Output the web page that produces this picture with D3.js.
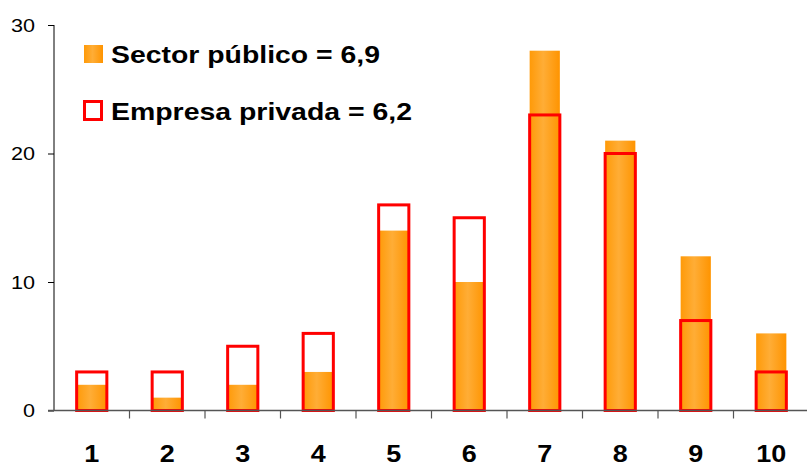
<!DOCTYPE html>
<html><head><meta charset="utf-8">
<script src="https://cdn.jsdelivr.net/npm/d3@7"></script>
<style>body{margin:0;background:#fff}svg{display:block}</style>
</head><body>
<svg id="c" width="807" height="465"></svg>
<script>
const categories = ["1","2","3","4","5","6","7","8","9","10"];
const sectorPublico = [2,1,2,3,14,10,28,21,12,6];
const empresaPrivada = [3,3,5,6,16,15,23,20,7,3];
const yTicks = [0,10,20,30];
const legendLabels = ["Sector público = 6,9","Empresa privada = 6,2"];

const svg = d3.select("#c");
const font = "'Liberation Sans', Arial, sans-serif";
const x = d3.scaleBand().domain(categories).range([54, 809]).paddingInner(0.6).paddingOuter(0.3);
const y = d3.scaleLinear().domain([0,30]).range([410.5, 25]);

const defs = svg.append("defs");
const g = defs.append("linearGradient").attr("id","og").attr("x1","0").attr("x2","1").attr("y1","0").attr("y2","0");
g.append("stop").attr("offset","0").attr("stop-color","#FF9A08");
g.append("stop").attr("offset","0.45").attr("stop-color","#FFAD36");
g.append("stop").attr("offset","1").attr("stop-color","#FF9400");

// orange bars
svg.append("g").selectAll("rect").data(sectorPublico).join("rect")
  .attr("x",(d,i)=>x(categories[i]))
  .attr("width",x.bandwidth())
  .attr("y",d=>y(d))
  .attr("height",d=>y(0)-y(d))
  .attr("fill","url(#og)");

// red outline bars
svg.append("g").selectAll("rect").data(empresaPrivada).join("rect")
  .attr("x",(d,i)=>x(categories[i]))
  .attr("width",x.bandwidth())
  .attr("y",d=>y(d))
  .attr("height",d=>y(0)-y(d))
  .attr("fill","none").attr("stroke","#FF0000").attr("stroke-width",3);

// y axis
const ya = svg.append("g").attr("transform","translate(54,0)")
  .call(d3.axisLeft(y).tickValues(yTicks).tickSize(6).tickPadding(13).tickFormat(d3.format("d")));
ya.select(".domain").attr("d","M0,25V410.5").attr("stroke","#000");
ya.selectAll(".tick line").attr("stroke","#000");
ya.selectAll("text").attr("font-family",font).attr("font-size","19px").attr("fill","#000")
  .attr("textLength",d=>String(d).length*12).attr("lengthAdjust","spacingAndGlyphs");

// x axis
const xa = svg.append("g").attr("transform","translate(0,410.5)");
xa.append("line").attr("x1",48).attr("x2",807).attr("stroke","#555").attr("stroke-width",1.5);
xa.selectAll("line.t").data(categories.slice(1)).join("line").attr("class","t")
  .attr("x1",d=>x(d)-x.step()*x.paddingInner()/2).attr("x2",d=>x(d)-x.step()*x.paddingInner()/2)
  .attr("y1",0).attr("y2",8).attr("stroke","#555").attr("stroke-width",1.2);
xa.selectAll("text").data(categories).join("text")
  .attr("x",d=>x(d)+x.bandwidth()/2).attr("y",51)
  .attr("text-anchor","middle").attr("font-family",font).attr("font-weight","bold")
  .attr("font-size","24px").attr("fill","#000")
  .attr("textLength",d=>d.length*15).attr("lengthAdjust","spacingAndGlyphs")
  .text(d=>d);

// legend
const lg = svg.append("g");
lg.append("rect").attr("x",84).attr("y",45).attr("width",19).attr("height",18).attr("fill","url(#og)");
lg.append("rect").attr("x",84.5).attr("y",101.5).attr("width",17).attr("height",18).attr("fill","none").attr("stroke","#FF0000").attr("stroke-width",3);
const legendWidths = [269, 301];
lg.selectAll("text").data(legendLabels).join("text")
  .attr("x",111).attr("y",(d,i)=>63+i*57)
  .attr("font-family",font).attr("font-weight","bold").attr("font-size","24px").attr("fill","#000")
  .attr("textLength",(d,i)=>legendWidths[i]).attr("lengthAdjust","spacingAndGlyphs")
  .text(d=>d);
</script>
</body></html>
